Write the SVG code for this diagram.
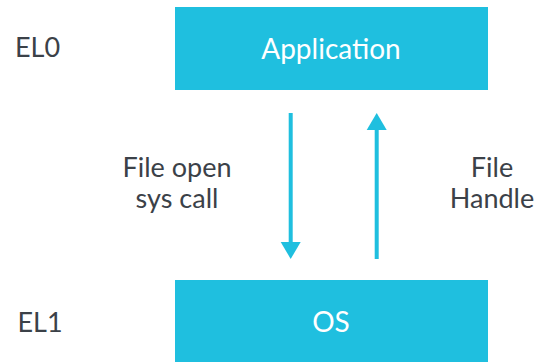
<svg xmlns="http://www.w3.org/2000/svg" width="540" height="362" viewBox="0 0 540 362">
<defs>
<style>
.box{fill:#1fbfdf}
.bt{font-family:Lato,"Liberation Sans",sans-serif;font-size:28px;fill:#ffffff;text-anchor:middle}
.lbl{font-family:Lato,"Liberation Sans",sans-serif;font-size:27px;fill:#3b4148;text-anchor:middle}
.arr{stroke:#1fbfdf;stroke-width:4;fill:none}
.head{fill:#1fbfdf}
</style>
</defs>
<rect width="540" height="362" fill="#ffffff"/>
<g id="app">
<rect class="box" x="175" y="7" width="313" height="83"/>
<text class="bt" x="331" y="59">Application</text>
</g>
<g id="os">
<rect class="box" x="175" y="280" width="313" height="82"/>
<text class="bt" x="331" y="332">OS</text>
</g>
<g id="el0"><text class="lbl" x="37.5" y="57">EL0</text></g>
<g id="el1"><text class="lbl" x="40" y="332">EL1</text></g>
<g id="connectors">
<line class="arr" x1="290.7" y1="113" x2="290.7" y2="244"/>
<polygon class="head" points="280.7,242 300.7,242 290.7,259"/>
<line class="arr" x1="376.7" y1="259" x2="376.7" y2="128"/>
<polygon class="head" points="366.7,130 386.7,130 376.7,113"/>
<text class="lbl" x="177" y="177">File open</text>
<text class="lbl" x="177" y="208">sys call</text>
<text class="lbl" x="492" y="177">File</text>
<text class="lbl" x="492" y="208">Handle</text>
</g>
</svg>
